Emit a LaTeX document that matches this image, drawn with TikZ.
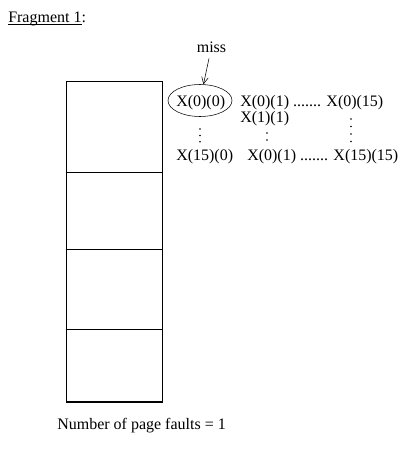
\documentclass[tikz,border=0pt]{standalone}
\usepackage{fontspec}
\setmainfont{Liberation Serif}
\usepackage{tikz}
\usetikzlibrary{positioning,shapes.geometric,arrows.meta}

\begin{document}
\begin{tikzpicture}[x=0.75pt,y=-0.75pt,font=\fontsize{12}{14}\selectfont]
    \tikzstyle{frame} = [draw, line width=0.8pt, minimum width=71.7pt, inner sep=0pt, outer sep=0pt]
    \tikzstyle{entry} = [inner sep=0pt, anchor=base west]
    \tikzstyle{arrow} = [thin,-{Straight Barb[length=5pt,width=5pt]}]
    \useasboundingbox (0,0) rectangle (405,457);

    % Title
    \node [entry] (Title) at (8,22) {\underline{\smash{Fragment 1}}:};

    % Page frames, top one first
    \node [frame, minimum height=67.95pt, anchor=north] (FrameA) at (114.5,81.7) {};
    \node [frame, minimum height=57.75pt, below=0pt of FrameA] (FrameB) {};
    \node [frame, minimum height=60pt, below=0pt of FrameB] (FrameC) {};
    \node [frame, minimum height=54.5pt, below=0pt of FrameC] (FrameD) {};

    % First access, circled as a miss
    \node [draw, ellipse, inner sep=0pt, minimum width=48pt, minimum height=24pt] (MissRing) at (200,100.5) {};
    \node [entry] (X00) at (176,106.5) {X(0)(0)};
    \node [inner xsep=1pt, inner ysep=4.5pt, anchor=base] (Miss) at (211.5,52) {miss};
    \draw [arrow] (Miss) -- (MissRing);

    % Rest of the accesses
    \node [entry] (RowZero) at (240,106.5) {X(0)(1) ....... X(0)(15)};
    \node [entry] (RowOne) at (240,122) {X(1)(1)};
    \node [entry] (ColZero) at (176,160) {X(15)(0)};
    \node [entry] (RowLast) at (247,160) {X(0)(1) ....... X(15)(15)};

      % Vertical dots
      \foreach \y in {129,135.4,141.8} \fill (200,\y) circle [radius=0.9];
      \foreach \y in {133,140} \fill (267,\y) circle [radius=0.9];
      \foreach \y in {119,126.5,134,141.5} \fill (351,\y) circle [radius=0.9];

    % Result
    \node [entry] (Faults) at (57,429) {Number of page faults = 1};
\end{tikzpicture}
\end{document}
